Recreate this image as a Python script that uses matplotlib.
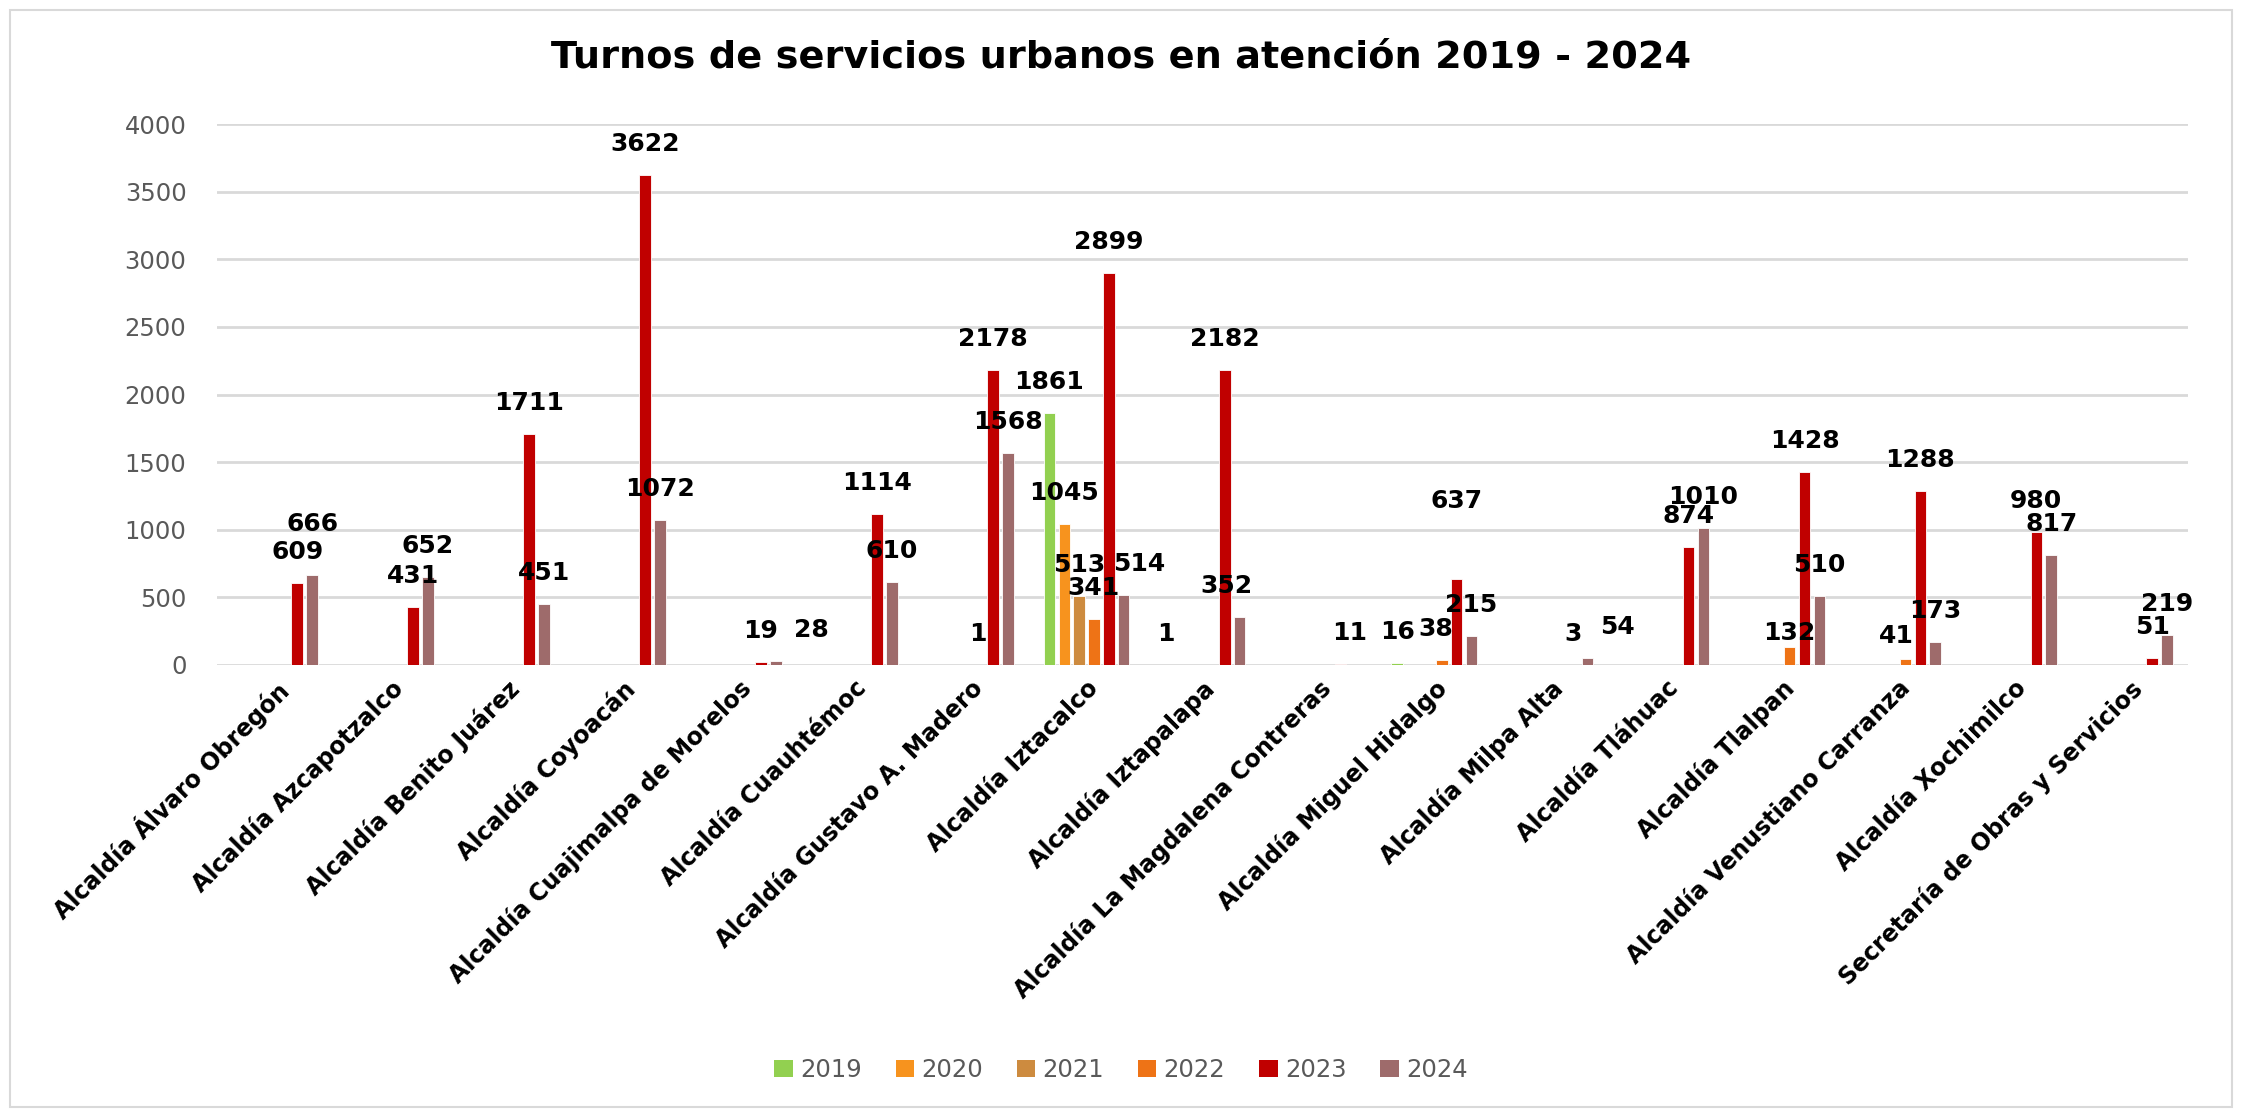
import numpy as np
import matplotlib
matplotlib.use('Agg')
import matplotlib.pyplot as plt
from matplotlib.patches import Rectangle, Patch

nan = np.nan

# categories and values per year
categorias = ['Alcaldía Álvaro Obregón', 'Alcaldía Azcapotzalco', 'Alcaldía Benito Juárez',
              'Alcaldía Coyoacán', 'Alcaldía Cuajimalpa de Morelos', 'Alcaldía Cuauhtémoc',
              'Alcaldía Gustavo A. Madero', 'Alcaldía Iztacalco', 'Alcaldía Iztapalapa',
              'Alcaldía La Magdalena Contreras', 'Alcaldía Miguel Hidalgo', 'Alcaldía Milpa Alta',
              'Alcaldía Tláhuac', 'Alcaldía Tlalpan', 'Alcaldía Venustiano Carranza',
              'Alcaldía Xochimilco', 'Secretaría de Obras y Servicios']

anios = ['2019', '2020', '2021', '2022', '2023', '2024']

v2019 = [nan, nan, nan, nan, nan, nan, nan, 1861, 1, nan, 16, nan, nan, nan, nan, nan, nan]
v2020 = [nan, nan, nan, nan, nan, nan, nan, 1045, nan, nan, nan, nan, nan, nan, nan, nan, nan]
v2021 = [nan, nan, nan, nan, nan, nan, nan, 513, nan, nan, nan, nan, nan, nan, nan, nan, nan]
v2022 = [nan, nan, nan, nan, nan, nan, 1, 341, nan, nan, 38, nan, nan, 132, 41, nan, nan]
v2023 = [609, 431, 1711, 3622, 19, 1114, 2178, 2899, 2182, 11, 637, 3, 874, 1428, 1288, 980, 51]
v2024 = [666, 652, 451, 1072, 28, 610, 1568, 514, 352, nan, 215, 54, 1010, 510, 173, 817, 219]

series = [v2019, v2020, v2021, v2022, v2023, v2024]
colores = ['#92D050', '#F7931E', '#CD8B3F', '#EE7316', '#C00000', '#9E6B6B']

# manual label nudges (pixels) where Excel moved labels
nudge = {(4, 10): (0, 47), (5, 7): (16, 0), (5, 8): (-13, 0), (5, 11): (30, 0),
         (5, 4): (36, 0), (4, 9): (9, 0), (3, 10): (-6, 0), (3, 14): (-9, -8),
         (3, 13): (0, -17), (5, 0): (0, 20)}

W, H = 2242, 1117
fig = plt.figure(figsize=(W / 100, H / 100), dpi=100)
fig.patches.append(Rectangle((10 / W, 10 / H), 1 - 20 / W, 1 - 20 / H, transform=fig.transFigure,
                             fill=False, edgecolor='#D9D9D9', linewidth=1.5))

ax = fig.add_axes([217 / W, 1 - 665 / H, 1971 / W, 541 / H])

x = np.arange(len(categorias))
slot = 0.128
bw = 0.1
for i, (vals, col) in enumerate(zip(series, colores)):
    pos = x + (i - 2.5) * slot
    vals = np.array(vals, dtype=float)
    ax.bar(pos, np.nan_to_num(vals), width=bw, color=col, edgecolor='white', linewidth=0.6, zorder=3)
    for j, v in enumerate(vals):
        if np.isnan(v):
            continue
        dx, dy = nudge.get((i, j), (0, 0))
        ax.annotate(f'{int(v)}', (pos[j], v), xytext=(dx, 31 + dy), textcoords='offset pixels',
                    ha='center', va='center', fontsize=18, fontweight='bold', color='black', zorder=4)

ax.set_xlim(-0.5, len(categorias) - 0.5)
ax.set_ylim(0, 4000)
ax.set_yticks(np.arange(0, 4001, 500))
ax.yaxis.grid(True, color='#D9D9D9', linewidth=2)
ax.set_axisbelow(True)
for s in ['top', 'right', 'left', 'bottom']:
    ax.spines[s].set_visible(False)
ax.tick_params(axis='y', length=0, pad=22, labelsize=17.5, labelcolor='#595959')
ax.tick_params(axis='x', length=0, pad=8)
ax.set_xticks(x)
ax.set_xticklabels(categorias, rotation=45, ha='right', rotation_mode='anchor',
                   fontsize=17, fontweight='bold')

fig.text(0.5, 1 - 57 / H, 'Turnos de servicios urbanos en atención 2019 - 2024',
         ha='center', va='center', fontsize=27.5, fontweight='bold')

handles = [Patch(facecolor=c, edgecolor='none', label=a) for a, c in zip(anios, colores)]
leg = fig.legend(handles=handles, loc='center', bbox_to_anchor=(0.5, 1 - 1070 / H), ncol=6,
                 frameon=False, fontsize=17.5, handlelength=0.75, handleheight=0.75,
                 handletextpad=0.3, columnspacing=1.4)
for t in leg.get_texts():
    t.set_color('#595959')

fig.savefig('out.png', dpi=100)
